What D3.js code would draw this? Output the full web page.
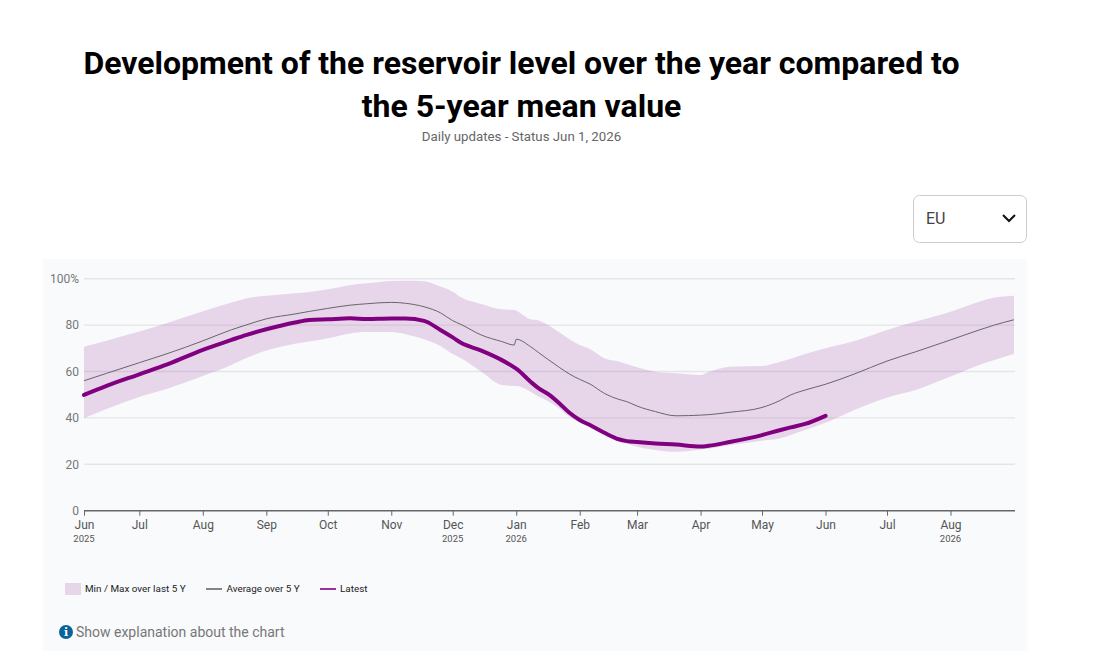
<!DOCTYPE html>
<html><head><meta charset="utf-8">
<script src="https://cdn.jsdelivr.net/npm/d3@7"></script>
<style>
html,body{margin:0;padding:0;background:#fff;overflow:hidden}
svg{display:block}
text{font-family:Roboto,sans-serif}
</style></head><body>
<svg id="c" width="1106" height="672"></svg>
<script>
const titleLines = ["Development of the reservoir level over the year compared to","the 5-year mean value"];
const subtitle = "Daily updates - Status Jun 1, 2026";
const region = "EU";
const legendLabels = ["Min / Max over last 5 Y","Average over 5 Y","Latest"];
const explanation = "Show explanation about the chart";
const yTicks = [0,20,40,60,80,100];
const dates = ["2025-06-04","2025-06-15","2025-07-01","2025-07-15","2025-08-01","2025-08-15","2025-08-22","2025-09-01","2025-09-15","2025-09-22","2025-10-01","2025-10-12","2025-10-20","2025-11-01","2025-11-08","2025-11-17","2025-11-25","2025-12-01","2025-12-05","2025-12-15","2025-12-25","2025-12-31","2026-01-01","2026-01-08","2026-01-12","2026-01-17","2026-01-22","2026-01-27","2026-02-01","2026-02-06","2026-02-13","2026-02-20","2026-02-24","2026-03-01","2026-03-10","2026-03-20","2026-04-01","2026-04-05","2026-04-15","2026-05-01","2026-05-10","2026-05-15","2026-05-22","2026-06-01","2026-06-15","2026-07-01","2026-07-15","2026-08-01","2026-08-15","2026-08-22","2026-09-01"];
const maxValues = [70.7,73.3,77.2,81.0,86.0,89.7,91.5,92.6,93.7,94.3,95.4,97.3,98.0,99.0,99.1,98.9,96.6,94.4,92.0,89.1,86.8,86.5,86.2,82.5,82.0,79.8,76.9,73.9,71.4,69.7,65.7,64.3,63.2,61.8,59.9,59.2,58.5,59.8,62.1,62.4,64.2,65.5,67.5,70.0,73.1,77.9,81.5,85.8,90.1,91.8,92.7];
const minValues = [39.8,43.8,49.0,52.7,58.1,62.8,65.7,69.0,72.0,72.9,74.3,76.4,77.0,77.0,76.1,73.9,71.0,67.5,65.7,59.9,54.2,53.8,53.8,51.3,49.2,47.0,44.1,40.5,38.0,36.2,33.4,30.5,29.0,27.6,26.2,25.4,26.4,26.7,28.2,30.2,31.2,32.6,34.8,37.9,43.4,48.7,52.0,57.8,62.8,64.9,67.5];
const avgValues = [56.0,59.2,63.8,67.8,73.2,78.0,80.0,82.7,84.8,85.9,87.2,88.6,89.2,89.8,89.4,87.9,85.3,81.9,80.3,75.7,72.9,71.4,73.9,70.7,68.1,64.9,61.8,58.9,56.6,54.6,50.6,48.0,47.0,45.1,42.7,40.9,41.2,41.4,42.4,44.5,47.6,49.9,52.0,54.5,58.9,64.5,68.5,73.6,77.9,79.9,82.3];
const latestValues = [49.9,53.8,58.8,63.2,69.3,73.6,75.7,78.2,81.1,82.2,82.5,82.9,82.6,82.8,82.8,81.8,77.9,74.7,72.4,69.0,64.9,61.8,61.2,55.6,52.7,50.0,46.3,42.2,39.1,36.9,33.6,30.8,30.0,29.6,29.0,28.5,27.7,28.0,29.6,32.6,34.8,35.9,37.4,40.9];
const monthTicks = ["2025-06-04","2025-07-01","2025-08-01","2025-09-01","2025-10-01","2025-11-01","2025-12-01","2026-01-01","2026-02-01","2026-03-01","2026-04-01","2026-05-01","2026-06-01","2026-07-01","2026-08-01"];
const monthLabels = ["Jun","Jul","Aug","Sep","Oct","Nov","Dec","Jan","Feb","Mar","Apr","May","Jun","Jul","Aug"];
const yearLabels = {"2025-06-04":"2025","2025-12-01":"2025","2026-01-01":"2026","2026-08-01":"2026"};

const parse = d3.utcParse("%Y-%m-%d");
const svg = d3.select("#c");
const x = d3.scaleUtc().domain([parse("2025-06-04"),parse("2026-09-01")]).range([84,1014]);
const y = d3.scaleLinear().domain([0,100]).range([510.7,278.7]);

svg.append("rect").attr("x",43).attr("y",259).attr("width",984).attr("height",392).attr("fill","#f9fafc");

svg.selectAll("text.t").data(titleLines).join("text").attr("class","t")
  .attr("x",521.5).attr("y",(d,i)=>74+i*43).attr("text-anchor","middle")
  .attr("font-size",32).attr("font-weight",700).attr("fill","#000").text(d=>d);
svg.append("text").attr("x",521.5).attr("y",141).attr("text-anchor","middle")
  .attr("font-size",13.25).attr("fill","#666").text(subtitle);

// region select
svg.append("rect").attr("x",913.5).attr("y",195.5).attr("width",113).attr("height",47).attr("rx",6)
  .attr("fill","#fff").attr("stroke","#ccc");
svg.append("text").attr("x",926).attr("y",224).attr("font-size",16).attr("fill","#444").text(region);
svg.append("path").attr("d","M1003 215l6 6l6 -6").attr("fill","none").attr("stroke","#111").attr("stroke-width",2);

// grid + y axis
const yAxis = d3.axisLeft(y).tickValues(yTicks).tickSize(0).tickPadding(5)
  .tickFormat(d=>d===100?"100%":d);
const gy = svg.append("g").attr("transform","translate(84,0)").call(yAxis);
gy.select(".domain").remove();
gy.selectAll("text").attr("font-size",12).attr("fill","#777").style("font-family","Roboto");
svg.append("g").selectAll("line").data(yTicks.filter(d=>d>0)).join("line")
  .attr("x1",84).attr("x2",1015).attr("y1",d=>y(d)).attr("y2",d=>y(d))
  .attr("stroke","#e4e5e8").attr("stroke-width",1.4);

const rows = dates.map((d,i)=>({d:parse(d),min:minValues[i],max:maxValues[i],avg:avgValues[i],last:latestValues[i]}));
const curve = d3.curveMonotoneX;
svg.append("path").datum(rows)
  .attr("d",d3.area().x(r=>x(r.d)).y0(r=>y(r.min)).y1(r=>y(r.max)).curve(curve))
  .attr("fill","#800080").attr("fill-opacity",0.14);
svg.append("path").datum(rows)
  .attr("d",d3.line().x(r=>x(r.d)).y(r=>y(r.avg)).curve(curve))
  .attr("fill","none").attr("stroke","#666").attr("stroke-width",1);
svg.append("path").datum(rows.filter(r=>r.last!==undefined))
  .attr("d",d3.line().x(r=>x(r.d)).y(r=>y(r.last)).curve(curve))
  .attr("fill","none").attr("stroke","#800080").attr("stroke-width",4).attr("stroke-linecap","round");

// x axis
const tickDates = monthTicks.map(parse);
const xAxis = d3.axisBottom(x).tickValues(tickDates).tickSize(5).tickPadding(5)
  .tickFormat((d,i)=>monthLabels[i]);
const gx = svg.append("g").attr("transform","translate(0,510.7)").call(xAxis);
gx.select(".domain").attr("d","M84,0H1015").attr("stroke","#666").attr("stroke-width",1.6);
gx.selectAll(".tick line").attr("stroke","#666");
gx.selectAll("text").attr("font-size",12).attr("fill","#555").style("font-family","Roboto");
svg.append("g").selectAll("text").data(monthTicks.filter(m=>yearLabels[m])).join("text")
  .attr("x",m=>x(parse(m))).attr("y",541.5).attr("text-anchor","middle")
  .attr("font-size",9.5).attr("fill","#555").text(m=>yearLabels[m]);

// legend
svg.append("rect").attr("x",65).attr("y",583).attr("width",16).attr("height",12).attr("fill","#800080").attr("fill-opacity",0.14);
svg.append("line").attr("x1",206).attr("x2",222).attr("y1",589).attr("y2",589).attr("stroke","#666").attr("stroke-width",1.6);
svg.append("line").attr("x1",320).attr("x2",336).attr("y1",589).attr("y2",589).attr("stroke","#800080").attr("stroke-width",1.6);
const legX=[85,226.5,340];
svg.append("g").selectAll("text").data(legendLabels).join("text")
  .attr("x",(d,i)=>legX[i]).attr("y",592).attr("font-size",9.9).attr("fill","#222").text(d=>d);

// explanation
svg.append("circle").attr("cx",66).attr("cy",632).attr("r",7).attr("fill","#0a6396");
svg.append("text").attr("x",66).attr("y",636).attr("text-anchor","middle").attr("font-size",11).attr("font-weight",700)
  .style("font-family","DejaVu Serif").attr("fill","#fff").text("i");
svg.append("text").attr("x",76).attr("y",637).attr("font-size",14).attr("fill","#777").text(explanation);
</script>
</body></html>
